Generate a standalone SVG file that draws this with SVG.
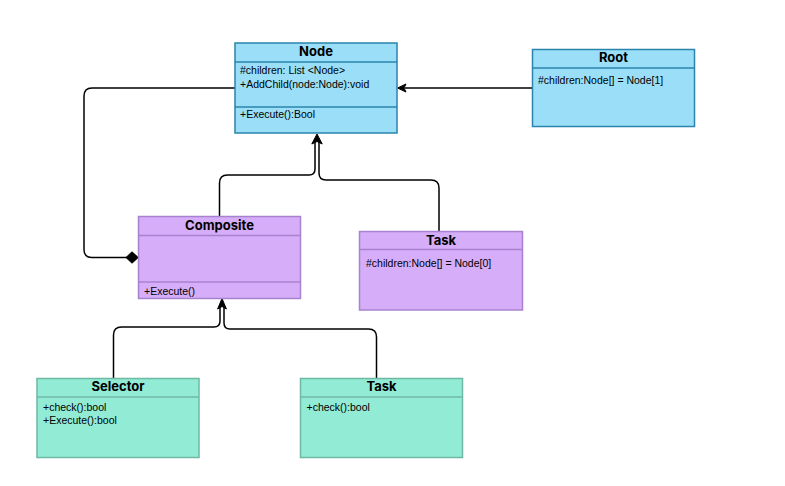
<svg xmlns="http://www.w3.org/2000/svg" width="785" height="486" viewBox="0 0 785 486">
<style>
  .blue{fill:#9ADFF7;stroke:#2B84AB;stroke-width:1.5}
  .purple{fill:#D5ADF8;stroke:#A882CF;stroke-width:1.5}
  .green{fill:#92EBD5;stroke:#6FB8A3;stroke-width:1.5}
  .sepB{stroke:#2B84AB;stroke-width:1.5}
  .sepP{stroke:#A882CF;stroke-width:1.5}
  .sepG{stroke:#6FB8A3;stroke-width:1.5}
  .title{font-family:Inter,"Liberation Sans",sans-serif;font-weight:700;font-size:13px;fill:#000;text-anchor:middle}
  .attr{font-family:"Liberation Sans",Arial,sans-serif;font-size:10.5px;fill:#000}
  .conn{fill:none;stroke:#000;stroke-width:1.5}
  .head{fill:#000;stroke:#000;stroke-width:1}
</style>
<rect width="785" height="486" fill="#ffffff"/>

<g id="connectors">
  <path class="conn" d="M235,88 H92 Q84,88 84,96 V249.5 Q84,257.5 92,257.5 H127"/>
  <polygon class="head" points="126,257.5 132,251.8 138.3,257.5 132,263.2"/>
  <path class="conn" d="M532,88 H405"/>
  <polygon class="head" points="397.5,88 406,84 404,88 406,92"/>
  <path class="conn" d="M219.5,216.5 V183 Q219.5,175 227.5,175 H309 Q315,175 315,169 V141"/>
  <path class="conn" d="M439,231 V188 Q439,180 431,180 H326 Q319,180 319,173 V141"/>
  <polygon class="head" points="317,134 311.8,144 317,141.5 322.2,144"/>
  <path class="conn" d="M113.5,378.5 V335 Q113.5,327 121.5,327 H214 Q220,327 220,321 V307"/>
  <path class="conn" d="M376.5,378.5 V337 Q376.5,329 368.5,329 H230 Q224,329 224,323 V307"/>
  <polygon class="head" points="222,298.5 217.6,309 222,306.5 226.4,309"/>
</g>

<g id="node-Node">
  <rect class="blue" x="235" y="43" width="162" height="90"/>
  <line class="sepB" x1="235" y1="62" x2="397" y2="62"/>
  <line class="sepB" x1="235" y1="107" x2="397" y2="107"/>
  <text class="title" x="316" y="55.5">Node</text>
  <text class="attr" x="240" y="74">#children: List &lt;Node&gt;</text>
  <text class="attr" x="240" y="87.5">+AddChild(node:Node):void</text>
  <text class="attr" x="240" y="118">+Execute():Bool</text>
</g>

<g id="node-Root">
  <rect class="blue" x="532.5" y="49.5" width="162" height="77"/>
  <line class="sepB" x1="532.5" y1="68" x2="694.5" y2="68"/>
  <text class="title" x="613.5" y="62">Root</text>
  <text class="attr" x="538" y="84">#children:Node[] = Node[1]</text>
</g>

<g id="node-Composite">
  <rect class="purple" x="138.5" y="216.5" width="162" height="82"/>
  <line class="sepP" x1="138.5" y1="235.5" x2="300.5" y2="235.5"/>
  <line class="sepP" x1="138.5" y1="282" x2="300.5" y2="282"/>
  <text class="title" x="219.5" y="229.5">Composite</text>
  <text class="attr" x="144" y="295">+Execute()</text>
</g>

<g id="node-Task1">
  <rect class="purple" x="359.5" y="231.5" width="163" height="78.5"/>
  <line class="sepP" x1="359.5" y1="249.5" x2="522.5" y2="249.5"/>
  <text class="title" x="441" y="244.5">Task</text>
  <text class="attr" x="366" y="267">#children:Node[] = Node[0]</text>
</g>

<g id="node-Selector">
  <rect class="green" x="37" y="378.5" width="162" height="79"/>
  <line class="sepG" x1="37" y1="397" x2="199" y2="397"/>
  <text class="title" x="118" y="391">Selector</text>
  <text class="attr" x="43" y="410.5">+check():bool</text>
  <text class="attr" x="43" y="424">+Execute():bool</text>
</g>

<g id="node-Task2">
  <rect class="green" x="300.5" y="378.5" width="162" height="79"/>
  <line class="sepG" x1="300.5" y1="397" x2="462.5" y2="397"/>
  <text class="title" x="381.5" y="391">Task</text>
  <text class="attr" x="306.5" y="410.5">+check():bool</text>
</g>
</svg>
